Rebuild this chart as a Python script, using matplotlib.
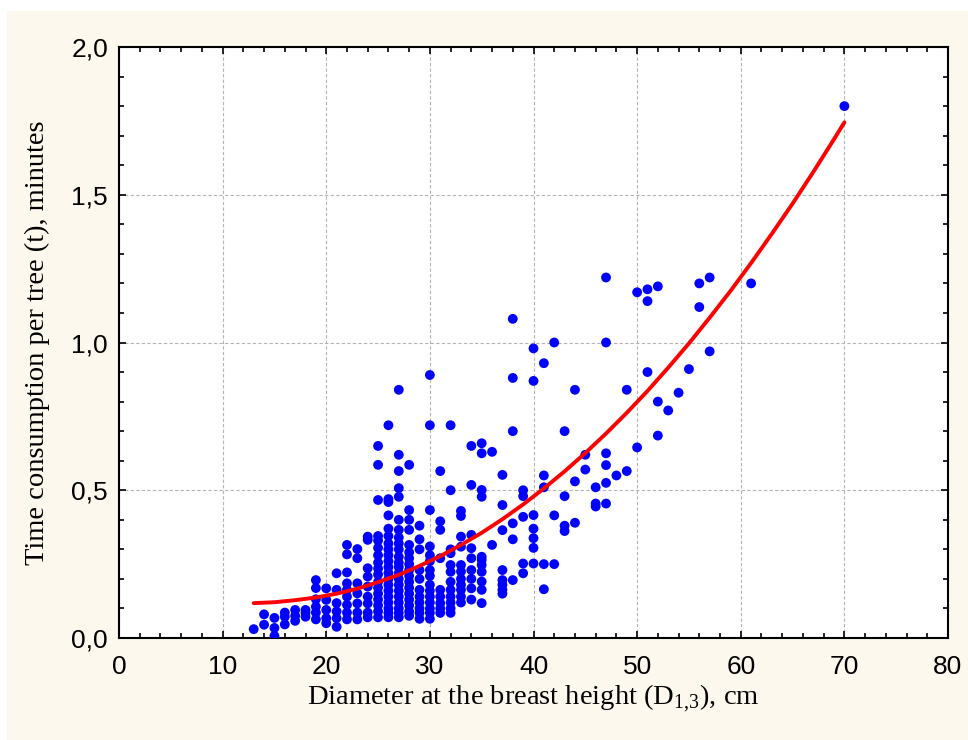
import matplotlib.pyplot as plt
from matplotlib.ticker import MultipleLocator, FuncFormatter
from matplotlib.patches import Rectangle

# diameter classes (cm) and the time values read for each one (minutes)
diam_cm = [13, 14, 15, 16, 17, 18, 19, 20, 21, 22, 23, 24, 25, 26, 27, 28, 29, 30,
           31, 32, 33, 34, 35, 36, 37, 38, 39, 40, 41, 42, 43, 44, 45, 46, 47, 48,
           49, 50, 51, 52, 53, 54, 55, 56, 57, 61, 70]
time_min = [
    [0.03],
    [0.08, 0.045],
    [0.068, 0.034, 0.007],
    [0.086, 0.072, 0.046],
    [0.095, 0.075, 0.058],
    [0.095, 0.085, 0.072],
    [0.196, 0.169, 0.131, 0.106, 0.086, 0.063],
    [0.168, 0.129, 0.095, 0.067, 0.05],
    [0.219, 0.163, 0.118, 0.09, 0.067, 0.038],
    [0.315, 0.283, 0.222, 0.185, 0.163, 0.14, 0.112, 0.086, 0.063],
    [0.301, 0.27, 0.185, 0.151, 0.117, 0.086, 0.063],
    [0.343, 0.332, 0.236, 0.208, 0.174, 0.14, 0.117, 0.086, 0.07],
    [0.65, 0.586, 0.467, 0.345, 0.33, 0.305, 0.28, 0.255, 0.235, 0.215, 0.19,
     0.17, 0.15, 0.13, 0.11, 0.09, 0.07],
    [0.72, 0.47, 0.46, 0.415, 0.37, 0.345, 0.32, 0.3, 0.28, 0.26, 0.24, 0.22,
     0.2, 0.18, 0.16, 0.14, 0.12, 0.1, 0.085, 0.07],
    [0.84, 0.62, 0.565, 0.507, 0.478, 0.4, 0.366, 0.34, 0.32, 0.3, 0.275, 0.255,
     0.24, 0.22, 0.2, 0.18, 0.16, 0.14, 0.12, 0.1, 0.085, 0.07],
    [0.586, 0.433, 0.4, 0.366, 0.315, 0.29, 0.27, 0.25, 0.23, 0.21, 0.19, 0.17,
     0.15, 0.13, 0.11, 0.09, 0.075],
    [0.38, 0.334, 0.3, 0.23, 0.2, 0.163, 0.14, 0.12, 0.1, 0.085, 0.065],
    [0.89, 0.72, 0.433, 0.31, 0.28, 0.26, 0.23, 0.21, 0.18, 0.16, 0.14, 0.12,
     0.1, 0.085, 0.065],
    [0.565, 0.395, 0.366, 0.27, 0.163, 0.14, 0.118, 0.1, 0.085],
    [0.72, 0.5, 0.3, 0.287, 0.247, 0.224, 0.19, 0.163, 0.14, 0.12, 0.1, 0.085],
    [0.43, 0.413, 0.343, 0.309, 0.247, 0.225, 0.2, 0.18, 0.163, 0.14, 0.12],
    [0.65, 0.518, 0.349, 0.304, 0.27, 0.23, 0.2, 0.168, 0.13],
    [0.659, 0.625, 0.501, 0.478, 0.275, 0.264, 0.247, 0.224, 0.191, 0.163, 0.118],
    [0.63, 0.315],
    [0.552, 0.45, 0.365, 0.23, 0.196, 0.18, 0.163, 0.15],
    [1.08, 0.88, 0.7, 0.388, 0.334, 0.196],
    [0.5, 0.48, 0.41, 0.252, 0.219],
    [0.98, 0.87, 0.416, 0.37, 0.338, 0.305, 0.252],
    [0.93, 0.55, 0.51, 0.25, 0.165],
    [1.0, 0.415, 0.25],
    [0.7, 0.48, 0.38, 0.362],
    [0.84, 0.53, 0.39],
    [0.62, 0.57],
    [0.51, 0.455, 0.445],
    [1.22, 1.0, 0.625, 0.585, 0.525, 0.455],
    [0.55],
    [0.84, 0.565],
    [1.17, 0.645],
    [1.18, 1.14, 0.9],
    [1.19, 0.8, 0.685],
    [0.77],
    [0.83],
    [0.91],
    [1.2, 1.12],
    [1.22, 0.97],
    [1.2],
    [1.8],
]

# regression curve (every 2 cm)
curve_d = [13, 15, 17, 19, 21, 23, 25, 27, 29, 31, 33, 35, 37, 39, 41, 43, 45,
           47, 49, 51, 53, 55, 57, 59, 61, 63, 65, 67, 69, 70]
curve_t = [0.118, 0.121, 0.128, 0.137, 0.150, 0.167, 0.189, 0.214, 0.244, 0.277,
           0.315, 0.356, 0.402, 0.452, 0.506, 0.564, 0.626, 0.692, 0.762, 0.836,
           0.915, 0.997, 1.084, 1.174, 1.269, 1.368, 1.470, 1.577, 1.688, 1.745]

xs = []
ys = []
for d, col in zip(diam_cm, time_min):
    for t in col:
        xs.append(d)
        ys.append(t)

fig = plt.figure(figsize=(9.68, 7.40), dpi=100, facecolor='white')
# beige panel behind the chart
fig.patches.append(Rectangle((7 / 968, 0), 1, 1 - 11 / 740, transform=fig.transFigure,
                             facecolor='#fdf8ee', edgecolor='none', zorder=-10))

ax = fig.add_axes([119 / 968, 1 - 638 / 740, (948 - 119) / 968, (638 - 47) / 740])
ax.set_facecolor('white')

ax.scatter(xs, ys, s=50, color='#0000ff', edgecolors='none', zorder=3)
ax.plot(curve_d, curve_t, color='#ff0000', lw=2.8, zorder=4,
        solid_joinstyle='round', solid_capstyle='round')

ax.set_xlim(0, 80)
ax.set_ylim(0, 2.0)
ax.xaxis.set_major_locator(MultipleLocator(10))
ax.xaxis.set_minor_locator(MultipleLocator(2))
ax.yaxis.set_major_locator(MultipleLocator(0.5))
ax.yaxis.set_minor_locator(MultipleLocator(0.1))
ax.yaxis.set_major_formatter(FuncFormatter(lambda v, p: f'{v:.1f}'.replace('.', ',')))
ax.xaxis.set_major_formatter(FuncFormatter(lambda v, p: f'{v:.0f}'))

ax.grid(True, which='major', color='#b4b4b4', lw=0.8, linestyle=(0, (3, 2)))
ax.set_axisbelow(True)

for s in ax.spines.values():
    s.set_linewidth(1.5)
    s.set_color('black')

ax.tick_params(which='both', direction='in', top=True, right=True, width=1.2)
ax.tick_params(which='major', length=5)
ax.tick_params(which='minor', length=3.5)
ax.tick_params(axis='x', which='major', pad=12)
ax.tick_params(axis='y', which='major', pad=8)
for lab in ax.get_xticklabels() + ax.get_yticklabels():
    lab.set_fontfamily('Liberation Sans')
    lab.set_fontsize(19)

ax.set_xlabel(r'Diameter at the breast height (D$_{\mathregular{1{,}3}}$), cm',
              family='Liberation Serif', fontsize=20.5, labelpad=3)
ax.set_ylabel('Time consumption per tree (t), minutes',
              family='Liberation Serif', fontsize=20.5, labelpad=15)

fig.savefig('out.png', dpi=100, facecolor=fig.get_facecolor())
